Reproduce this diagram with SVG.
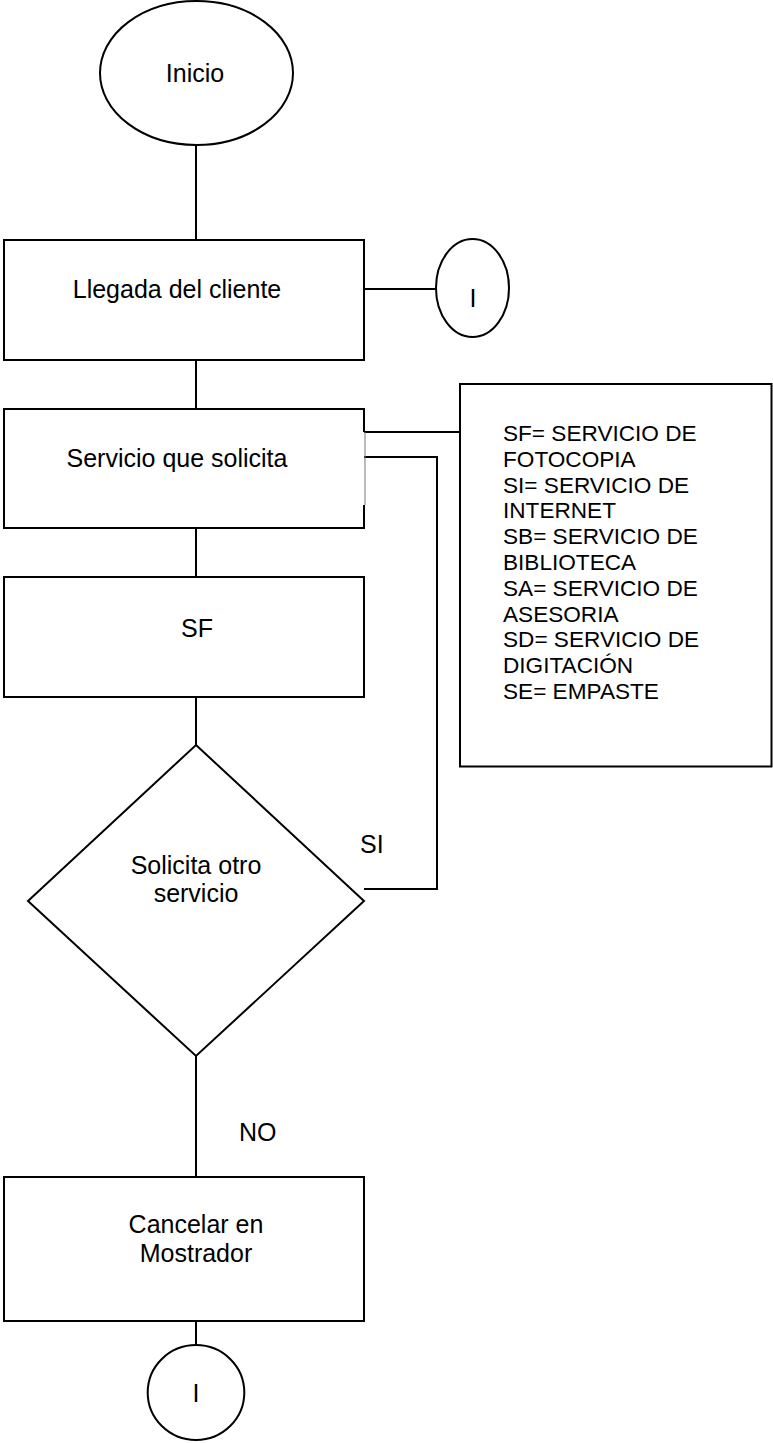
<svg xmlns="http://www.w3.org/2000/svg" width="773" height="1443" viewBox="0 0 773 1443">
<style>
.s{fill:#fff;stroke:#000;stroke-width:2}
.c{fill:none;stroke:#000;stroke-width:2}
.t{font-family:"Liberation Sans",Arial,sans-serif;font-size:25px;fill:#000}
.m{text-anchor:middle}
.l{font-family:"Liberation Sans",Arial,sans-serif;font-size:22.6px;fill:#000}
</style>
<rect width="773" height="1443" fill="#fff"/>
<g id="connectors">
<line class="c" x1="196" y1="145" x2="196" y2="240"/>
<line class="c" x1="364" y1="289" x2="436" y2="289"/>
<line class="c" x1="196" y1="360" x2="196" y2="409"/>
<line class="c" x1="196" y1="528" x2="196" y2="577"/>
<line class="c" x1="196" y1="697" x2="196" y2="745"/>
<polyline class="c" points="364,432 460,432"/>
<polyline class="c" points="364,889 437,889 437,457 364,457"/>
<line class="c" x1="196" y1="1056" x2="196" y2="1177"/>
<line class="c" x1="196" y1="1321" x2="196" y2="1345"/>
<text class="t" x="360" y="853">SI</text>
<text class="t" x="239" y="1141">NO</text>
</g>
<g id="inicio">
<ellipse class="s" cx="196.5" cy="73" rx="96.5" ry="72"/>
<text class="t m" x="195" y="82">Inicio</text>
</g>
<g id="llegada">
<rect class="s" x="4" y="240" width="360" height="120"/>
<text class="t m" x="177" y="298">Llegada del cliente</text>
</g>
<g id="conector-i-top">
<ellipse class="s" cx="472.5" cy="288" rx="36.5" ry="49"/>
<text class="t m" x="473" y="307">I</text>
</g>
<g id="servicio">
<path fill="#fff" stroke="none" d="M4,409H364V528H4Z"/>
<path class="c" d="M364,432V409H4V528H364V505"/>
<line x1="365" y1="432" x2="365" y2="505" stroke="#777" stroke-width="1"/>
<text class="t m" x="177" y="467">Servicio que solicita</text>
</g>
<g id="leyenda">
<rect class="s" x="460" y="384" width="311.5" height="382.5"/>
<text class="l" x="503" y="441">SF= SERVICIO DE</text>
<text class="l" x="503" y="466.8">FOTOCOPIA</text>
<text class="l" x="503" y="492.6">SI= SERVICIO DE</text>
<text class="l" x="503" y="518.4">INTERNET</text>
<text class="l" x="503" y="544.2">SB= SERVICIO DE</text>
<text class="l" x="503" y="570">BIBLIOTECA</text>
<text class="l" x="503" y="595.8">SA= SERVICIO DE</text>
<text class="l" x="503" y="621.6">ASESORIA</text>
<text class="l" x="503" y="647.4">SD= SERVICIO DE</text>
<text class="l" x="503" y="673.2">DIGITACIÓN</text>
<text class="l" x="503" y="699">SE= EMPASTE</text>
</g>
<g id="sf">
<rect class="s" x="4" y="577" width="360" height="120"/>
<text class="t m" x="197" y="637">SF</text>
</g>
<g id="decision">
<polygon class="s" stroke-width="1.5" points="196,745 364,901 196,1056 28,901"/>
<text class="t m" x="196" y="874">Solicita otro</text>
<text class="t m" x="196" y="902">servicio</text>
</g>
<g id="cancelar">
<rect class="s" x="4" y="1177" width="360" height="144"/>
<text class="t m" x="196" y="1233">Cancelar en</text>
<text class="t m" x="196" y="1262">Mostrador</text>
</g>
<g id="conector-i-bottom">
<ellipse class="s" cx="196" cy="1392.5" rx="48.3" ry="47.5"/>
<text class="t m" x="196" y="1402">I</text>
</g>
</svg>
